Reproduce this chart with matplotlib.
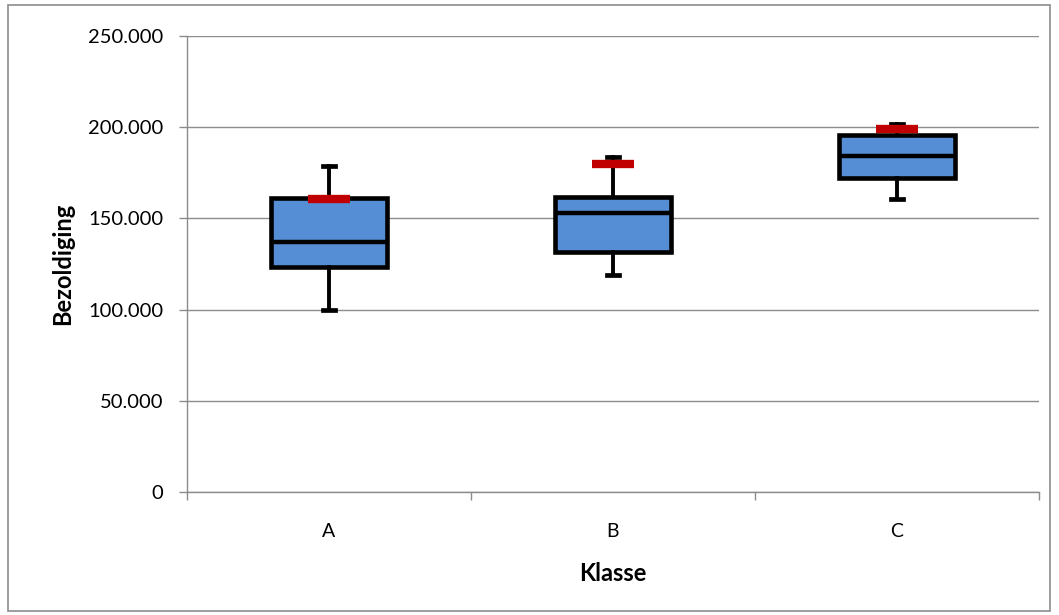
import matplotlib.pyplot as plt
from matplotlib.ticker import FuncFormatter, FixedLocator
from matplotlib.patches import Rectangle

# data
klassen = ["A", "B", "C"]
minimum = [100000, 119000, 160500]
q1 = [123500, 131500, 172000]
mediaan = [137000, 153000, 184000]
q3 = [161000, 162000, 195500]
maximum = [179000, 183500, 202000]
rood = [160500, 180000, 199000]

yticks = [0, 50000, 100000, 150000, 200000, 250000]

plt.rcParams['font.family'] = ['Lato', 'DejaVu Sans']

fig = plt.figure(figsize=(10.59, 6.15), dpi=100)
ax = fig.add_axes([187 / 1059, 1 - 492 / 615, 852 / 1059, 456 / 615])

# chart area border
fig.patches.append(Rectangle((8 / 1059, 4 / 615), 1042 / 1059, 606 / 615,
                             transform=fig.transFigure, fill=False,
                             edgecolor='#8c8c8c', linewidth=1.2))

stats = []
for i, k in enumerate(klassen):
    stats.append(dict(label=k, whislo=minimum[i], q1=q1[i], med=mediaan[i],
                      q3=q3[i], whishi=maximum[i], fliers=[]))

pos = list(range(len(klassen)))
ax.bxp(stats, positions=pos, widths=0.41, patch_artist=True,
       showfliers=False, capwidths=0.045,
       boxprops=dict(facecolor='#558ED5', edgecolor='black', linewidth=3.3),
       medianprops=dict(color='black', linewidth=3.2),
       whiskerprops=dict(color='black', linewidth=2.8),
       capprops=dict(color='black', linewidth=3.4),
       zorder=3)

ax.plot(pos, rood, linestyle='none', marker='_', markersize=30,
        markeredgewidth=6, color='#C00000', zorder=5)

ax.set_xlim(-0.5, 2.5)
ax.set_ylim(0, 250000)
ax.yaxis.set_major_locator(FixedLocator(yticks))
ax.yaxis.set_major_formatter(FuncFormatter(
    lambda v, p: '0' if v == 0 else f'{int(v):,}'.replace(',', '.')))
ax.grid(axis='y', color='#8c8c8c', linewidth=1.0, zorder=0)
ax.set_axisbelow(True)

ax.set_xticks(pos)
ax.set_xticklabels(klassen)
ax.set_xticks([-0.5, 0.5, 1.5, 2.5], minor=True)
ax.tick_params(axis='x', which='major', length=0, labelsize=14, pad=22)
ax.tick_params(axis='x', which='minor', length=6, color='#8c8c8c', width=1.0)
ax.tick_params(axis='y', length=6, color='#8c8c8c', width=1.0, labelsize=14.5, pad=11)

for s in ['top', 'right']:
    ax.spines[s].set_visible(False)
for s in ['left', 'bottom']:
    ax.spines[s].set_color('#8c8c8c')
    ax.spines[s].set_linewidth(1.0)

ax.set_xlabel('Klasse', fontsize=17, fontweight='bold', labelpad=16)
ax.set_ylabel('Bezoldiging', fontsize=17, fontweight='bold', labelpad=10)

fig.savefig('out.png', dpi=100)
